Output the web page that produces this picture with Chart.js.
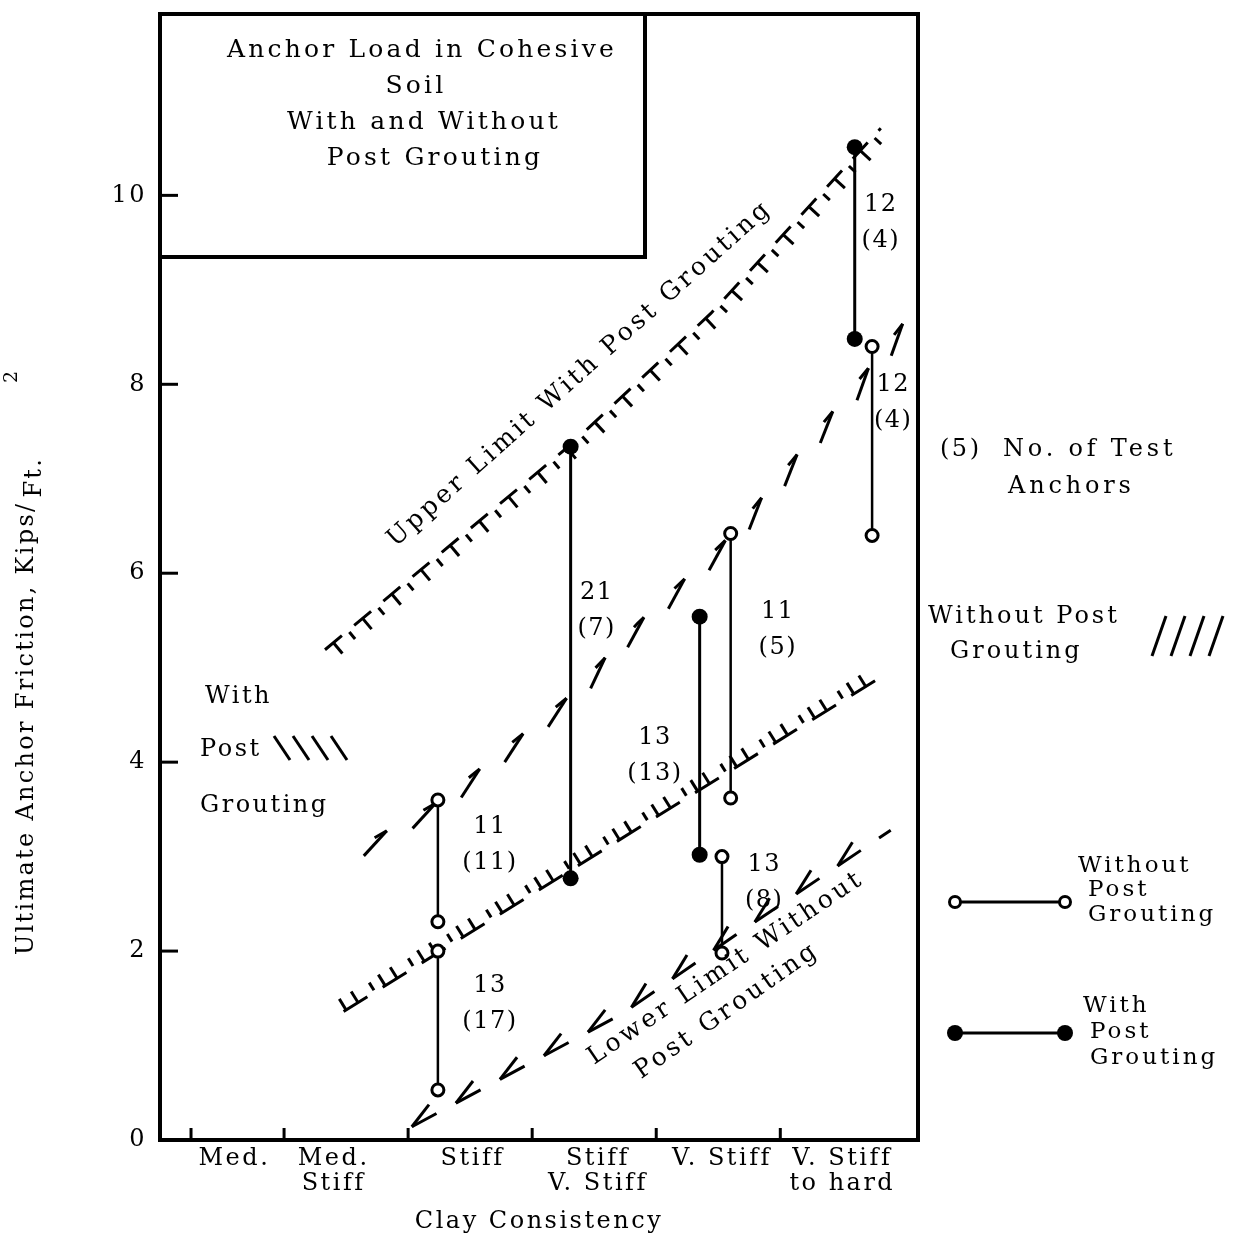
<!DOCTYPE html>
<html>
<head>
<meta charset="utf-8">
<script src="https://cdn.jsdelivr.net/npm/chart.js@4.4.1/dist/chart.umd.min.js"></script>
<style>
  html, body { margin: 0; padding: 0; background: #fff; }
  canvas { display: block; }
</style>
</head>
<body>
<canvas id="chart" width="1244" height="1240"></canvas>
<script>
// clay consistency classes along the x axis
const categories = [['Med.'], ['Med.', 'Stiff'], ['Stiff'], ['Stiff', 'V. Stiff'], ['V. Stiff'], ['V. Stiff', 'to hard']];
const categoryAt = [0.6, 1.4, 2.52, 3.53, 4.53, 5.5];
const classBreaks = [0.25, 1, 2, 3, 4, 5];
const yTicks = [0, 2, 4, 6, 8, 10];

// test ranges without post grouting (open circles)
const withoutX = [2.24, 2.24, 4.60, 4.53, 5.74];
const withoutHigh = [3.60, 2.00, 6.42, 3.00, 8.40];
const withoutLow = [2.31, 0.53, 3.62, 1.98, 6.40];
const withoutCount = ['11', '13', '11', '13', '12'];
const withoutAnchors = ['(11)', '(17)', '(5)', '(8)', '(4)'];

// test ranges with post grouting (filled circles)
const withX = [3.31, 4.35, 5.60];
const withHigh = [7.34, 5.54, 10.51];
const withLow = [2.77, 3.02, 8.48];
const withCount = ['21', '13', '12'];
const withAnchors = ['(7)', '(13)', '(4)'];

// limit curves
const upperWithX = [1.33, 3.31, 4.44, 5.81];
const upperWithY = [5.19, 7.36, 8.75, 10.71];
const lowerWithX = [1.48, 5.81];
const lowerWithY = [1.36, 4.90];
const upperWithoutX = [1.73, 2.27, 3.29, 3.85, 4.60, 5.10, 5.71, 6.01];
const upperWithoutY = [3.20, 3.60, 4.69, 5.47, 6.40, 7.20, 8.17, 8.68];
const lowerWithoutX = [2.03, 3.73, 4.64, 5.89];
const lowerWithoutY = [0.14, 1.34, 2.17, 3.28];

// where the "count (anchors)" notes sit, in axis units
const withoutNoteAt = [[2.66, 3.32], [2.66, 1.63], [4.98, 5.59], [4.87, 2.91], [5.91, 8.00]];
const withNoteAt = [[3.52, 5.79], [3.99, 4.26], [5.81, 9.90]];

const FONT = '"DejaVu Serif", serif';
Chart.defaults.font.family = FONT;
Chart.defaults.color = '#000';

// symbol pattern for each limit curve
const hatchStyles = {
  tee:  { period: 38, dash: 22 },
  foot: { period: 46, dash: 28 },
  flag: { period: 56, dash: 14 },
  vee:  { period: 50, dash: 28 }
};

function rangePoints(xs, hi, lo) {
  const pts = [];
  xs.forEach((x, i) => {
    pts.push({ x: x, y: hi[i] }, { x: x, y: lo[i] }, { x: x, y: null });
  });
  return pts;
}

function curve(xs, ys) {
  return xs.map((x, i) => ({ x: x, y: ys[i] }));
}

function curveSet(xs, ys, kind) {
  const st = hatchStyles[kind];
  return {
    data: curve(xs, ys),
    hatch: kind,
    borderColor: '#000',
    borderWidth: 3,
    borderDash: [st.dash, st.period - st.dash],
    borderCapStyle: 'butt',
    pointRadius: 0,
    tension: 0,
    order: 2
  };
}

function pathOf(meta) {
  const pts = meta.data.map(p => ({ x: p.x, y: p.y }));
  const segs = [];
  let total = 0;
  for (let i = 1; i < pts.length; i++) {
    const a = pts[i - 1], b = pts[i];
    const len = Math.hypot(b.x - a.x, b.y - a.y);
    segs.push({ a: a, ux: (b.x - a.x) / len, uy: (b.y - a.y) / len, start: total, len: len });
    total += len;
  }
  return { segs: segs, total: total };
}

function pointAt(path, s) {
  let g = path.segs[path.segs.length - 1];
  for (const seg of path.segs) {
    if (s <= seg.start + seg.len) { g = seg; break; }
  }
  const d = s - g.start;
  return { x: g.a.x + g.ux * d, y: g.a.y + g.uy * d, ux: g.ux, uy: g.uy };
}

function line(ctx, x1, y1, x2, y2) {
  ctx.beginPath();
  ctx.moveTo(x1, y1);
  ctx.lineTo(x2, y2);
  ctx.stroke();
}

// stroke perpendicular to the curve, from offset a to offset b (positive = below)
function tick(ctx, p, a, b) {
  line(ctx, p.x - p.uy * a, p.y + p.ux * a, p.x - p.uy * b, p.y + p.ux * b);
}

function text(ctx, str, x, y, size, spacing, align) {
  ctx.font = size + 'px ' + FONT;
  ctx.letterSpacing = spacing + 'px';
  ctx.textAlign = align || 'left';
  ctx.textBaseline = 'middle';
  ctx.fillText(str, x, y);
}

// draws the little hatch marks along each limit curve
const hatchPlugin = {
  id: 'hatch',
  afterDatasetDraw(chart, args) {
    const ds = chart.data.datasets[args.index];
    if (!ds.hatch) return;
    const st = hatchStyles[ds.hatch];
    const path = pathOf(args.meta);
    const ctx = chart.ctx;
    ctx.save();
    ctx.strokeStyle = '#000';
    ctx.lineWidth = 3;
    ctx.lineCap = 'butt';
    ctx.setLineDash([]);
    for (let s = 0; s + st.dash <= path.total + 0.5; s += st.period) {
      if (ds.hatch === 'tee') {
        tick(ctx, pointAt(path, s + 11), 0, 14);
        if (s + 30 < path.total) tick(ctx, pointAt(path, s + 30), 2, 11);
      } else if (ds.hatch === 'foot') {
        tick(ctx, pointAt(path, s + 3), 0, -13);
        tick(ctx, pointAt(path, s + 17), 0, -13);
        if (s + 37 < path.total) tick(ctx, pointAt(path, s + 37), -2, -11);
      } else if (ds.hatch === 'flag') {
        const p = pointAt(path, s + st.dash);
        const a = Math.atan2(p.uy, p.ux) - 18 * Math.PI / 180;
        line(ctx, p.x, p.y, p.x - Math.cos(a) * 34, p.y - Math.sin(a) * 34);
      } else if (ds.hatch === 'vee') {
        const p = pointAt(path, s);
        const a = Math.atan2(p.uy, p.ux) - 24 * Math.PI / 180;
        line(ctx, p.x, p.y, p.x + Math.cos(a) * 28, p.y + Math.sin(a) * 28);
      }
    }
    ctx.restore();
  }
};

// frame, inside ticks, title box, notes and keys
const notesPlugin = {
  id: 'notes',
  beforeDraw(chart) {
    chart.ctx.letterSpacing = '2.5px';
  },
  afterDraw(chart) {
    const ctx = chart.ctx;
    const area = chart.chartArea;
    const xs = chart.scales.x, ys = chart.scales.y;
    ctx.save();
    ctx.strokeStyle = '#000';
    ctx.fillStyle = '#000';
    ctx.setLineDash([]);

    // plot frame
    ctx.lineWidth = 4;
    ctx.strokeRect(area.left, area.top, area.right - area.left, area.bottom - area.top);

    // inward tick marks
    ctx.lineWidth = 3;
    classBreaks.forEach(v => {
      const px = xs.getPixelForValue(v);
      line(ctx, px, area.bottom, px, area.bottom - 12);
    });
    yTicks.slice(1).forEach(v => {
      const py = ys.getPixelForValue(v);
      line(ctx, area.left, py, area.left + 18, py);
    });

    // title box
    ctx.lineWidth = 4;
    ctx.strokeRect(area.left, area.top, 645 - area.left, 257 - area.top);
    text(ctx, 'Anchor Load in Cohesive', 422, 50, 25, 3.2, 'center');
    text(ctx, 'Soil', 416, 86, 25, 3.2, 'center');
    text(ctx, 'With and Without', 424, 122, 25, 3.2, 'center');
    text(ctx, 'Post Grouting', 435, 158, 25, 3.2, 'center');

    // count notes next to each range
    withoutX.forEach((x, i) => {
      const px = xs.getPixelForValue(withoutNoteAt[i][0]);
      const py = ys.getPixelForValue(withoutNoteAt[i][1]);
      text(ctx, withoutCount[i], px, py, 24, 1.5, 'center');
      text(ctx, withoutAnchors[i], px, py + 36, 24, 1.5, 'center');
    });
    withX.forEach((x, i) => {
      const px = xs.getPixelForValue(withNoteAt[i][0]);
      const py = ys.getPixelForValue(withNoteAt[i][1]);
      text(ctx, withCount[i], px, py, 24, 1.5, 'center');
      text(ctx, withAnchors[i], px, py + 36, 24, 1.5, 'center');
    });

    // labels along the limit curves
    const slanted = [
      ['Upper Limit With Post Grouting', 580, 374, -41.8],
      ['Lower Limit Without', 726, 968, -34],
      ['Post Grouting', 727, 1011, -35]
    ];
    slanted.forEach(([str, x, y, deg]) => {
      ctx.save();
      ctx.translate(x, y);
      ctx.rotate(deg * Math.PI / 180);
      text(ctx, str, 0, 0, 25, 3.4, 'center');
      ctx.restore();
    });

    // left key: with post grouting hatch
    text(ctx, 'With', 205, 697, 24, 2.5);
    text(ctx, 'Post', 200, 750, 24, 2.5);
    text(ctx, 'Grouting', 200, 806, 24, 2.5);
    ctx.lineWidth = 3;
    for (let i = 0; i < 4; i++) {
      const x0 = 274 + i * 19;
      line(ctx, x0, 736, x0 + 16, 760);
    }

    // right side notes
    text(ctx, '(5)', 940, 450, 24, 2.5);
    text(ctx, 'No. of Test', 1003, 450, 24, 3.8);
    text(ctx, 'Anchors', 1008, 487, 24, 3.8);
    text(ctx, 'Without Post', 928, 617, 24, 3);
    text(ctx, 'Grouting', 950, 652, 24, 3);
    for (let i = 0; i < 4; i++) {
      const x0 = 1152 + i * 19;
      line(ctx, x0, 656, x0 + 14, 616);
    }

    // marker keys
    ctx.lineWidth = 3;
    line(ctx, 955, 902, 1065, 902);
    [955, 1065].forEach(cx => {
      ctx.beginPath();
      ctx.arc(cx, 902, 5.5, 0, Math.PI * 2);
      ctx.fillStyle = '#fff';
      ctx.fill();
      ctx.stroke();
    });
    ctx.fillStyle = '#000';
    text(ctx, 'Without', 1078, 866, 23, 3);
    text(ctx, 'Post', 1088, 890, 23, 3);
    text(ctx, 'Grouting', 1088, 915, 23, 3);

    line(ctx, 955, 1033, 1065, 1033);
    [955, 1065].forEach(cx => {
      ctx.beginPath();
      ctx.arc(cx, 1033, 8, 0, Math.PI * 2);
      ctx.fill();
    });
    text(ctx, 'With', 1083, 1006, 23, 3);
    text(ctx, 'Post', 1090, 1032, 23, 3);
    text(ctx, 'Grouting', 1090, 1058, 23, 3);

    // y axis title with the raised/lowered units
    ctx.save();
    ctx.translate(33, 955);
    ctx.rotate(-Math.PI / 2);
    ctx.font = '24px ' + FONT;
    ctx.letterSpacing = '2.3px';
    ctx.textAlign = 'left';
    ctx.textBaseline = 'alphabetic';
    const yTitle = 'Ultimate Anchor Friction, Kips/';
    ctx.fillText(yTitle, 0, 0);
    const w = ctx.measureText(yTitle).width;
    ctx.fillText('Ft.', w + 4, 8);
    ctx.font = '19px ' + FONT;
    ctx.fillText('2', 572, -16);
    ctx.restore();

    ctx.restore();
  }
};

new Chart(document.getElementById('chart'), {
  type: 'line',
  data: {
    datasets: [
      {
        data: rangePoints(withoutX, withoutHigh, withoutLow),
        borderColor: '#000',
        borderWidth: 2.5,
        pointRadius: 6,
        pointBorderWidth: 3,
        pointBackgroundColor: '#fff',
        pointBorderColor: '#000',
        spanGaps: false,
        order: 0
      },
      {
        data: rangePoints(withX, withHigh, withLow),
        borderColor: '#000',
        borderWidth: 3,
        pointRadius: 8,
        pointBorderWidth: 0,
        pointBackgroundColor: '#000',
        spanGaps: false,
        order: 0
      },
      curveSet(upperWithX, upperWithY, 'tee'),
      curveSet(lowerWithX, lowerWithY, 'foot'),
      curveSet(upperWithoutX, upperWithoutY, 'flag'),
      curveSet(lowerWithoutX, lowerWithoutY, 'vee')
    ]
  },
  options: {
    responsive: false,
    animation: false,
    layout: { padding: { top: 14, right: 326, left: 0, bottom: 0 } },
    plugins: {
      legend: { display: false },
      tooltip: { enabled: false }
    },
    scales: {
      x: {
        type: 'linear',
        min: 0,
        max: 6.11,
        grid: { display: false, drawTicks: false },
        border: { display: false },
        afterBuildTicks: s => { s.ticks = categoryAt.map(v => ({ value: v })); },
        afterFit: s => { s.height = 100; s.paddingLeft = 0; s.paddingRight = 0; },
        ticks: {
          autoSkip: false,
          maxRotation: 0,
          minRotation: 0,
          padding: 6,
          font: { size: 24, lineHeight: 1.04 },
          callback: (v, i) => categories[i]
        },
        title: {
          display: true,
          text: 'Clay Consistency',
          font: { size: 24 },
          padding: { top: 0, bottom: 4 }
        }
      },
      y: {
        type: 'linear',
        min: 0,
        max: 11.92,
        grid: { display: false, drawTicks: false },
        border: { display: false },
        afterBuildTicks: s => { s.ticks = yTicks.map(v => ({ value: v })); },
        afterFit: s => { s.width = 160; s.paddingTop = 0; s.paddingBottom = 0; },
        ticks: { padding: 13, font: { size: 24 } }
      }
    }
  },
  plugins: [hatchPlugin, notesPlugin]
});
</script>
</body>
</html>
